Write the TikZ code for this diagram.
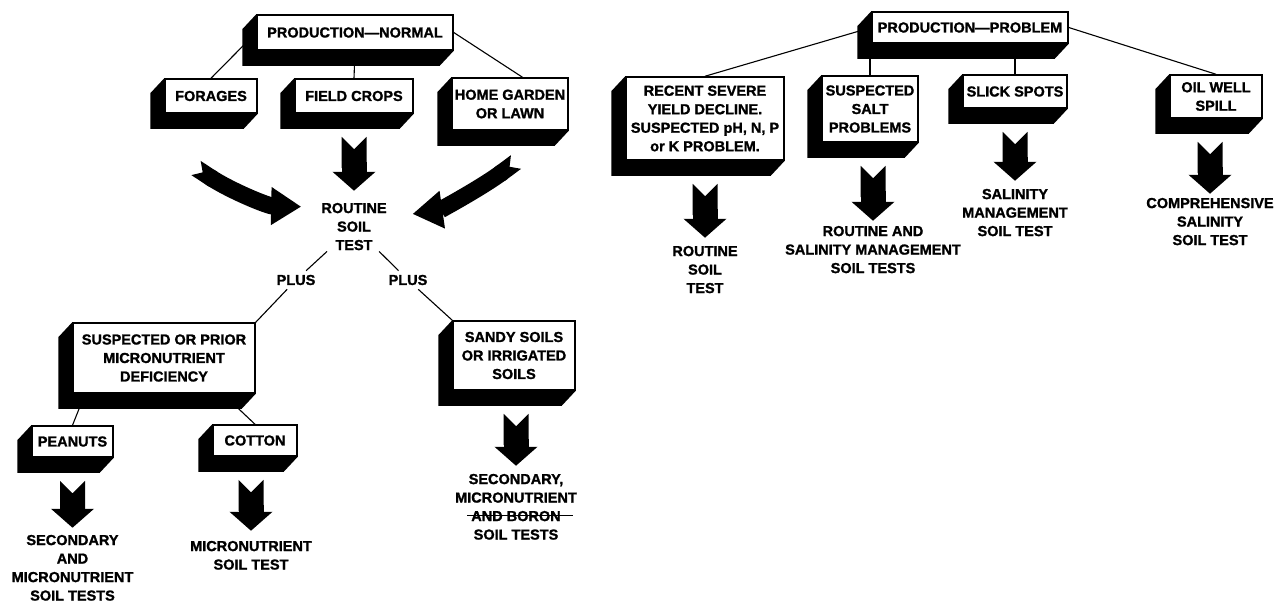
\documentclass[tikz,border=0pt]{standalone}
\usepackage{fontspec}
\setmainfont{Liberation Sans}
\newfontfamily\heavyfont{Liberation Sans Bold}[FakeBold=1.3, Ligatures=TeX]
\usetikzlibrary{arrows.meta, positioning, backgrounds, calc}
\newcommand{\crossout}[1]{\leavevmode\setbox0\hbox{#1}\hbox to \wd0{\kern-4pt\rule[0.32em]{\dimexpr\wd0+16pt\relax}{1.6pt}\hss}\kern-\wd0\box0}
\tikzset{
  slab/.style={
    rectangle, draw=black, line width=1.5pt, fill=white, align=center,
    inner sep=2pt, font=\heavyfont\fontsize{14.5}{18.5}\selectfont,
    append after command={\pgfextra{\begin{pgfonlayer}{background}
      \fill[black] (\tikzlastnode.north west) -- (\tikzlastnode.north east)
        -- (\tikzlastnode.south east) -- ++(-14pt,-15pt)
        -- ([shift={(-14pt,-15pt)}]\tikzlastnode.south west)
        -- ([shift={(-14pt,-15pt)}]\tikzlastnode.north west) -- cycle;
      \end{pgfonlayer}}}
  },
  fat/.style={
    line width=25pt, arrows={{Triangle Cap[reversed]}-{Triangle[width=42pt,length=19pt]}},
    shorten <=23pt, shorten >=7pt
  }
}

\begin{document}
\begin{tikzpicture}[
  x=1pt, y=-1pt,
  result/.style={align=center, inner sep=1pt, font=\heavyfont\fontsize{14.5}{18.5}\selectfont},
  plus/.style={inner sep=4pt, font=\heavyfont\fontsize{14.5}{18.5}\selectfont},
  link/.style={line width=1.1pt},
  swoosh/.style={line width=17pt, arrows={{Triangle Cap[reversed,length=8pt]}-{Triangle[width=36pt,length=30pt]}}}
]
\useasboundingbox (0,0) rectangle (1280,605);

% Production normale
\node[slab, minimum width=196pt, minimum height=35pt] (pn) at (355,32.5) {PRODUCTION---NORMAL};
\node[slab, minimum width=92pt, minimum height=34pt] (forage) at (211,96) {FORAGES};
\node[slab, minimum width=118pt, minimum height=34pt] (field) at (354,96) {FIELD CROPS};
\node[slab, minimum width=116pt, minimum height=52pt] (home) at (510,104) {HOME GARDEN\\OR LAWN};
\node[result, below=88pt of field] (rst) {ROUTINE\\SOIL\\TEST};
\node[plus] (plusL) at (296,280) {PLUS};
\node[plus] (plusR) at (408,280) {PLUS};
\node[slab, minimum width=182pt, minimum height=70pt] (susp) at (164,358) {SUSPECTED OR PRIOR\\MICRONUTRIENT\\DEFICIENCY};
\node[slab, minimum width=122pt, minimum height=69pt] (sandy) at (514,355.5) {SANDY SOILS\\OR IRRIGATED\\SOILS};
\node[slab, minimum width=81pt, minimum height=31pt] (peanut) at (72.5,441.5) {PEANUTS};
\node[slab, minimum width=84pt, minimum height=31pt] (cotton) at (255,440.5) {COTTON};
\node[result, below=76pt of peanut] (resPeanut) {SECONDARY\\AND\\MICRONUTRIENT\\SOIL TESTS};
\node[result, below=83pt of cotton, xshift=-4pt] (resCotton) {MICRONUTRIENT\\SOIL TEST};
\node[result, below=82pt of sandy, xshift=2pt] (resSandy) {SECONDARY,\\MICRONUTRIENT\\\crossout{AND BORON}\\SOIL TESTS};

\draw[link] (pn.west) -- (forage.north);
\draw[link] (pn.south) -- (field.north);
\draw[link] (pn.east) -- (home.65);
\draw[link] (rst) -- (plusL) -- (susp.north east);
\draw[link] (rst) -- (plusR) -- (sandy.north west);
\draw[link] ($(susp.south west)!0.07!(susp.south east)$) -- (peanut.north);
\draw[link] ($(susp.south west)!0.82!(susp.south east)$) -- (cotton.north);

\coordinate (lt) at (196,168);
\coordinate (rt) at (516,162);
\draw[swoosh, shorten >=19pt] (lt) .. controls (231,191) and (268,206) .. (rst.150);
\draw[swoosh, shorten >=25pt] (rt) .. controls (481,188) and (440,210) .. (rst.15);
\draw[fat, shorten >=11pt] (field.south) -- (rst.north);
\draw[fat, shorten >=6pt] (peanut.south) -- (resPeanut.north);
\draw[fat, shorten >=9pt] (resCotton.north |- cotton.south) -- (resCotton.north);
\draw[fat] (resSandy.north |- sandy.south) -- (resSandy.north);

% Production avec probleme
\node[slab, minimum width=196pt, minimum height=31pt] (pp) at (970,27.5) {PRODUCTION---PROBLEM};
\node[slab, minimum width=158pt, minimum height=83pt] (recent) at (705,118.5) {RECENT SEVERE\\YIELD DECLINE.\\SUSPECTED pH, N, P\\or K PROBLEM.};
\node[slab, minimum width=96pt, minimum height=66pt] (salt) at (870,109) {SUSPECTED\\SALT\\PROBLEMS};
\node[slab, minimum width=104pt, minimum height=33pt] (slick) at (1015,91.5) {SLICK SPOTS};
\node[slab, minimum width=92pt, minimum height=43pt] (oil) at (1216,96.5) {OIL WELL\\SPILL};
\node[result, below=84pt of recent] (resRecent) {ROUTINE\\SOIL\\TEST};
\node[result, below=82pt of salt, xshift=3pt] (resSalt) {ROUTINE AND\\SALINITY MANAGEMENT\\SOIL TESTS};
\node[result, below=79pt of slick] (resSlick) {SALINITY\\MANAGEMENT\\SOIL TEST};
\node[result, below=78pt of oil, xshift=-6pt] (resOil) {COMPREHENSIVE\\SALINITY\\SOIL TEST};

\draw[link] (pp.west) -- (recent.north);
\draw[link] (salt.north |- pp.south) -- (salt.north);
\draw[link] (slick.north |- pp.south) -- (slick.north);
\draw[link] (pp.east) -- (oil.north);

\draw[fat] (recent.south) -- (resRecent.north);
\draw[fat, shorten >=4pt] (resSalt.north |- salt.south) -- (resSalt.north);
\draw[fat] (slick.south) -- (resSlick.north);
\draw[fat, shorten >=3pt] (resOil.north |- oil.south) -- (resOil.north);

\end{tikzpicture}
\end{document}
